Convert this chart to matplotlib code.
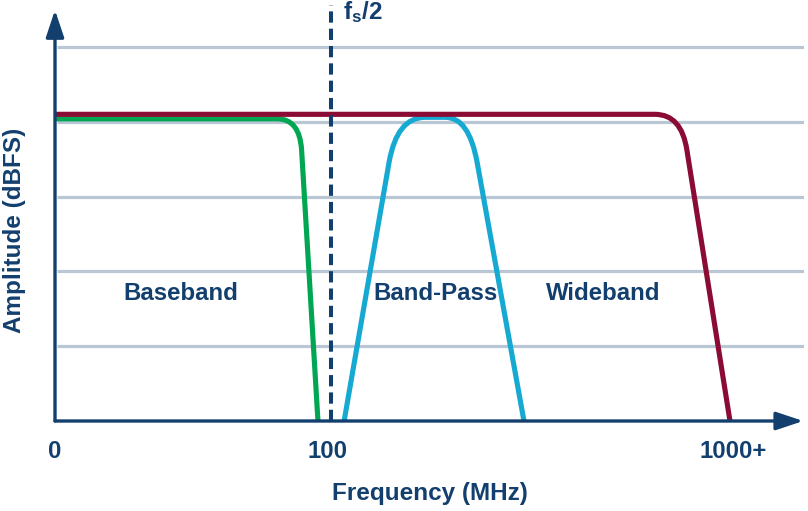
import matplotlib
matplotlib.use("Agg")
import matplotlib.pyplot as plt
from matplotlib.path import Path
from matplotlib.patches import PathPatch

# x is in chart units: "0" -> 0, "100" -> 100, "1000+" -> 249 (non-linear sketch axis)
# y is in grid steps above the floor of the plot
PATH_CODES = {"M": Path.MOVETO, "L": Path.LINETO, "Q": Path.CURVE3}

baseband_x = [0, 81.5, 89.8, 90.5, 96.5]
baseband_y = [4.04, 4.04, 4.04, 3.62, 0]
baseband_codes = "MLQQL"

bandpass_x = [106.1, 122.6, 125.5, 135.8, 143.3, 151.9, 154.9, 172.1]
bandpass_y = [0, 3.46, 4.06, 4.06, 4.06, 4.06, 3.46, 0]
bandpass_codes = "MLQQLQQL"

wideband_x = [0, 220.2, 229.9, 231.9, 247.7]
wideband_y = [4.10, 4.10, 4.10, 3.62, 0]
wideband_codes = "MLQQL"

grid_levels = [1, 2, 3, 4, 5]
tick_pos = [0, 100, 249]
tick_labels = ["0", "100", "1000+"]
nyquist_x = 101.3

region_labels = ["Baseband", "Band-Pass", "Wideband"]
region_x = [46.2, 139.8, 201.1]
region_y = 1.70

NAVY = "#123f6d"
GRID = "#b9c6d3"
GREEN = "#00a651"
BLUE = "#16aad3"
RED = "#8a0b34"

plt.rcParams["font.family"] = ["Liberation Sans", "DejaVu Sans"]
plt.rcParams["font.weight"] = "bold"

fig = plt.figure(figsize=(8.08, 5.11), dpi=100)
ax = fig.add_axes([55 / 808, 90 / 511, 749 / 808, 411 / 511])
ax.set_xlim(0, 749 / 2.725)
ax.set_ylim(0, 411 / 74.8)
for s in ax.spines.values():
    s.set_visible(False)

ax.hlines(grid_levels, 0.7, 749 / 2.725, color=GRID, lw=2.3, zorder=1)


def add_curve(xs, ys, codes, color):
    path = Path(list(zip(xs, ys)), [PATH_CODES[c] for c in codes])
    ax.add_patch(PathPatch(path, facecolor="none", edgecolor=color, lw=3.7,
                           capstyle="butt", joinstyle="round", zorder=3))


add_curve(baseband_x, baseband_y, baseband_codes, GREEN)
add_curve(bandpass_x, bandpass_y, bandpass_codes, BLUE)
add_curve(wideband_x, wideband_y, wideband_codes, RED)

ax.axvline(nyquist_x, ymin=0, ymax=1.012, color=NAVY, lw=2.9,
           dashes=(2.8, 1.5), zorder=4, clip_on=False)
ax.text(nyquist_x + 4.4, 5.37, r"$\mathregular{f_s/2}$", color=NAVY,
        fontsize=17.5, fontweight="bold", va="baseline", ha="left")

# axes with arrow heads
arrow = dict(arrowstyle="-|>,head_length=1.65,head_width=0.55", lw=2.4,
             color=NAVY, shrinkA=0, shrinkB=0, mutation_scale=10)
ax.annotate("", xy=(0, 1), xytext=(0, 0), xycoords="axes fraction",
            arrowprops=arrow, zorder=5)
ax.annotate("", xy=(0.999, 0), xytext=(0, 0), xycoords="axes fraction",
            arrowprops=arrow, zorder=5)

for label, x in zip(region_labels, region_x):
    ax.text(x, region_y, label, color=NAVY, fontsize=17.3, fontweight="bold",
            ha="center", va="center")

ax.set_xticks(tick_pos)
ax.set_xticklabels(tick_labels, fontsize=17.3, fontweight="bold", color=NAVY)
ax.tick_params(axis="x", length=0, pad=13.5)
ax.set_yticks([])

ax.text(0.5, -0.148, "Frequency (MHz)", transform=ax.transAxes, color=NAVY,
        fontsize=17.5, fontweight="bold", ha="center", va="top")
ax.text(-0.054, 0.465, "Amplitude (dBFS)", transform=ax.transAxes, color=NAVY,
        fontsize=17.5, fontweight="bold", rotation=90, ha="center", va="center")

fig.savefig("out.png", dpi=100)
